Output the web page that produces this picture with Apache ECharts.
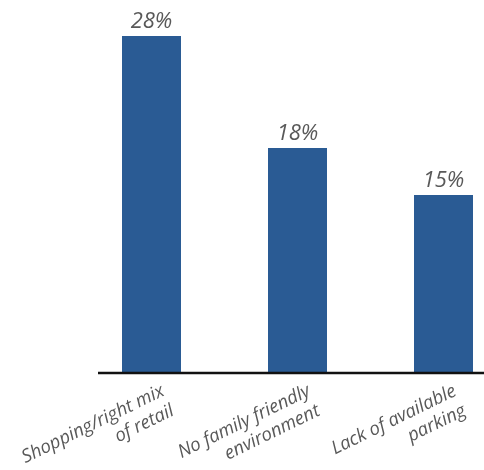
<!DOCTYPE html>
<html><head><meta charset="utf-8">
<script src="https://cdn.jsdelivr.net/npm/echarts@6/dist/echarts.min.js"></script>
<style>html,body{margin:0;padding:0;background:#fff}#c{width:484px;height:470px}</style>
</head><body><div id="c"></div>
<script>
const categories = ['Shopping/right mix\nof retail', 'No family friendly\nenvironment', 'Lack of available\nparking'];
const values = [28, 18.7, 14.8];
const valueLabels = ['28%', '18%', '15%'];

const chart = echarts.init(document.getElementById('c'));
const gridBase = { top: 12, bottom: 97, left: 78.5, width: 438, outerBoundsMode: 'none', containLabel: false };
chart.setOption({
  animation: false,
  grid: [
    Object.assign({}, gridBase),
    Object.assign({}, gridBase, { left: 95 })
  ],
  xAxis: [
    { type: 'category', gridIndex: 0, data: categories, axisLine: { show: false }, axisTick: { show: false }, axisLabel: { show: false } },
    { type: 'category', gridIndex: 1, data: categories, axisLine: { show: false }, axisTick: { show: false },
      axisLabel: { rotate: 26, margin: 27, interval: 0, fontFamily: 'Open Sans', fontStyle: 'italic', fontSize: 18.5, color: '#595959', lineHeight: 22 } }
  ],
  yAxis: [
    { type: 'value', gridIndex: 0, min: 0, max: 30, show: false },
    { type: 'value', gridIndex: 1, min: 0, max: 30, show: false }
  ],
  series: [{
    type: 'bar', xAxisIndex: 0, yAxisIndex: 0, data: values, barWidth: 59,
    itemStyle: { color: '#2a5b94' },
    label: { show: true, position: 'top', distance: 3, fontFamily: 'Open Sans', fontStyle: 'italic', fontSize: 22, color: '#595959',
      formatter: p => valueLabels[p.dataIndex] }
  }],
  graphic: [{ type: 'line', shape: { x1: 98, y1: 373, x2: 484, y2: 373 }, style: { stroke: '#111', lineWidth: 2.5 }, z: 10 }]
});
</script></body></html>
